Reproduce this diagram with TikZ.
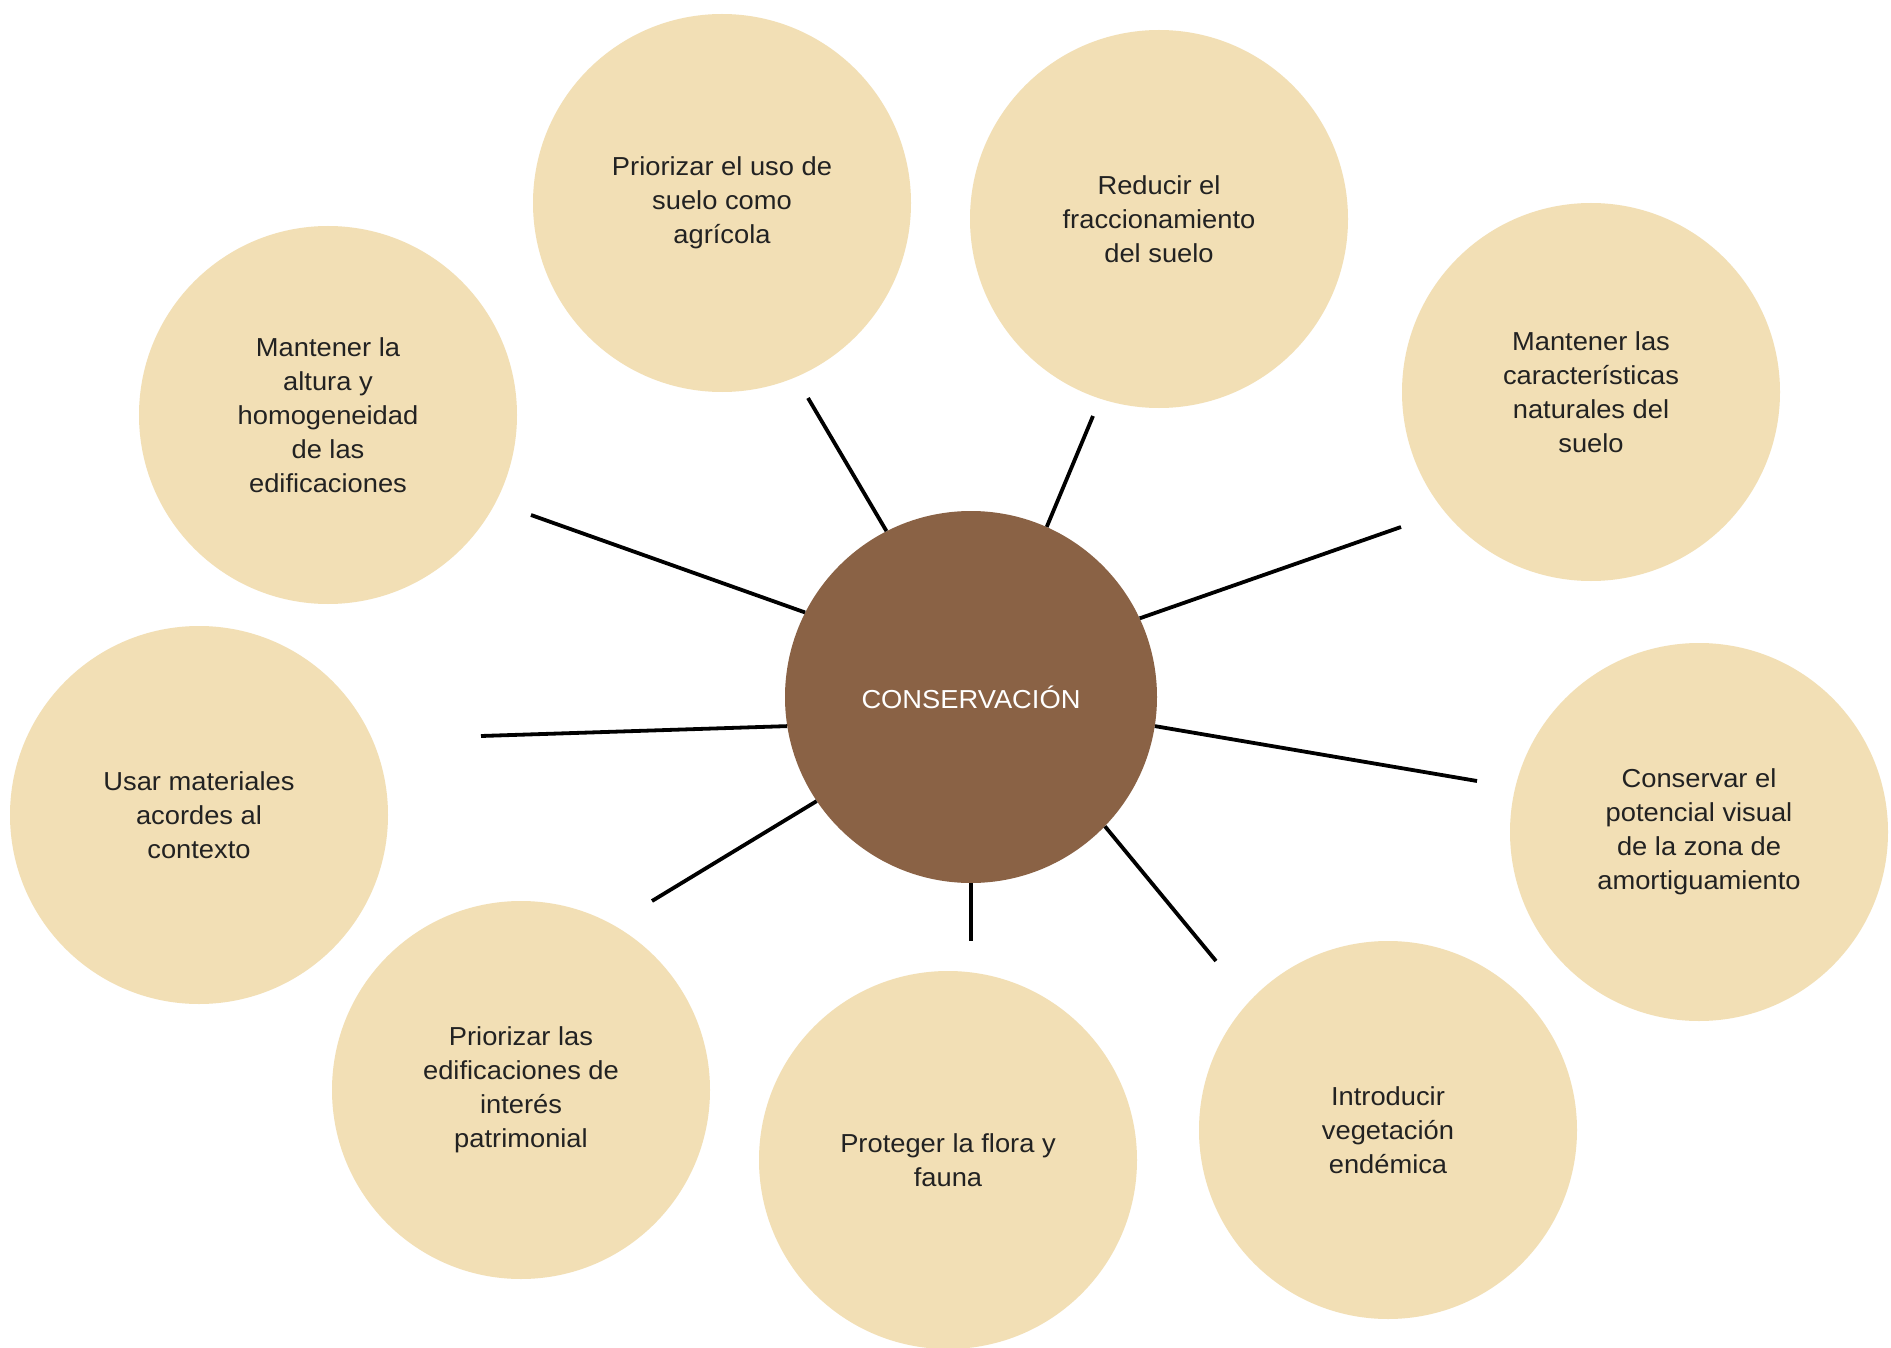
\documentclass[tikz,border=0pt]{standalone}
\usepackage{fontspec}
\setmainfont{Liberation Sans}[FakeStretch=1.05]
\definecolor{beige}{HTML}{F2DFB5}
\definecolor{brownc}{HTML}{8A6245}
\definecolor{txt}{HTML}{222222}
\begin{document}
\begin{tikzpicture}[x=1pt,y=-1pt,
  outer/.style={circle,fill=beige,draw=none,minimum size=378pt,inner sep=0pt,
    align=center,text=txt,font=\fontsize{26}{34}\selectfont},
  hub/.style={circle,fill=brownc,draw=none,minimum size=372pt,inner sep=0pt,
    text=white,font=\fontsize{26}{34}\selectfont},
  spoke/.style={line width=3.8pt,black}]
\useasboundingbox (0,0) rectangle (1891,1348);
\fill[white] (0,0) rectangle (1891,1348);
\node[hub] (c) at (971,697) {CONSERVACIÓN};
\node[outer] (n1) at (722,203) {Priorizar el uso de\\suelo como\\agrícola};
\node[outer] (n2) at (1159,219) {Reducir el\\fraccionamiento\\del suelo};
\node[outer] (n3) at (1591,392) {Mantener las\\características\\naturales del\\suelo};
\node[outer] (n4) at (1699,832) {Conservar el\\potencial visual\\de la zona de\\amortiguamiento};
\node[outer] (n5) at (1388,1130) {Introducir\\vegetación\\endémica};
\node[outer] (n6) at (948,1160) {Proteger la flora y\\fauna};
\node[outer] (n7) at (521,1090) {Priorizar las\\edificaciones de\\interés\\patrimonial};
\node[outer] (n8) at (199,815) {Usar materiales\\acordes al\\contexto};
\node[outer] (n9) at (328,415) {Mantener la\\altura y\\homogeneidad\\de las\\edificaciones};
\coordinate (e1) at (808,398);
\coordinate (e2) at (1093,416);
\coordinate (e3) at (1401,527);
\coordinate (e4) at (1477,781);
\coordinate (e5) at (1216,961);
\coordinate (e6) at (971,941);
\coordinate (e7) at (652,901);
\coordinate (e8) at (481,736);
\coordinate (e9) at (531,515);
\foreach \i/\a in {1/117.4,2/66.8,3/25,4/-9.9,5/-44.8,6/-90,7/214.9,8/189.2,9/153.6}
  {\draw[spoke] (c.\a) -- (e\i);}
\end{tikzpicture}
\end{document}
